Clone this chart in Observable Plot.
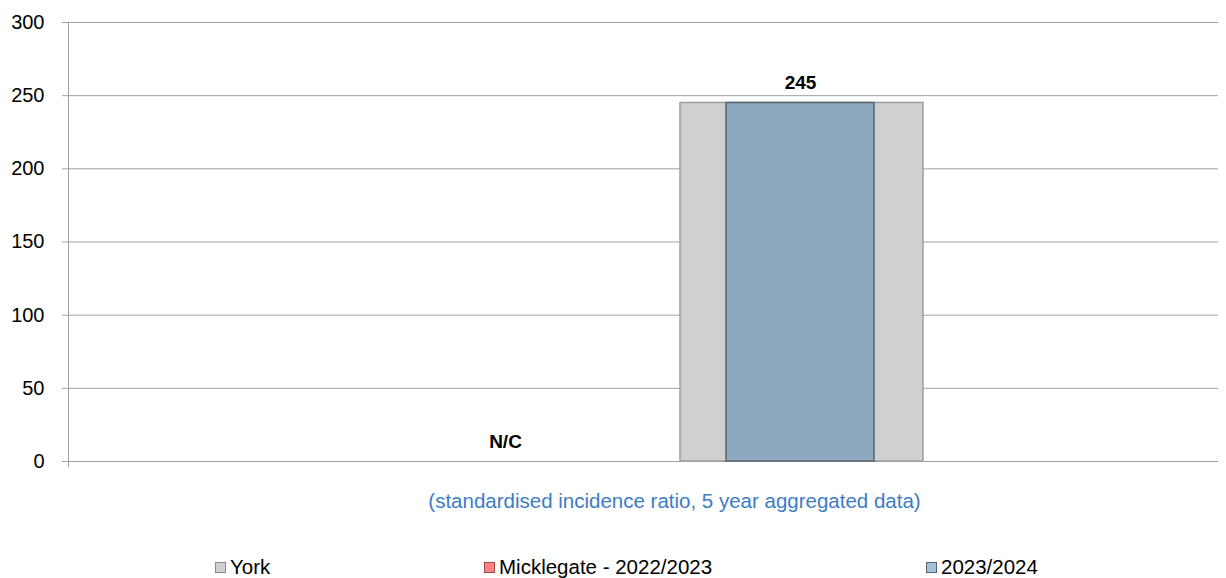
<!DOCTYPE html>
<html>
<head>
<meta charset="utf-8">
<script src="https://cdn.jsdelivr.net/npm/d3@7"></script>
<script src="https://cdn.jsdelivr.net/npm/@observablehq/plot@0.6"></script>
<style>
  html, body { margin: 0; padding: 0; background: #fff; }
  #wrap { position: relative; width: 1226px; height: 578px; font-family: "Liberation Sans", Arial, sans-serif; }
  #chart { position: absolute; left: 0; top: 0; }
  #subtitle { position: absolute; left: 0; width: 1349px; top: 488px; text-align: center; color: #3d7cc4; font-size: 20.5px; line-height: 26px; }
  .leg { position: absolute; top: 555px; font-size: 20.5px; line-height: 24px; color: #000; display: flex; align-items: center; white-space: nowrap; }
  .sw { width: 9px; height: 9px; margin-right: 4px; box-sizing: content-box; }
</style>
</head>
<body>
<div id="wrap">
  <div id="chart"></div>
  <div id="subtitle"></div>
  <div id="legend"></div>
</div>
<script>
const categories = ["Micklegate - 2022/2023", "2023/2024"];
const areaValues = [null, 245];
const yorkValues = [null, 245];
const valueLabels = ["N/C", "245"];
const yTicks = [0, 50, 100, 150, 200, 250, 300];
const seriesNames = ["York", "Micklegate - 2022/2023", "2023/2024"];
const subtitleText = "(standardised incidence ratio, 5 year aggregated data)";

const areaData = categories.map((c, i) => ({cat: c, value: areaValues[i], label: valueLabels[i]}));
const yorkData = categories.map((c, i) => ({cat: c, value: yorkValues[i]})).filter(d => d.value != null);
const barData = areaData.filter(d => d.value != null);

const chart = Plot.plot({
  width: 1226,
  height: 475,
  marginLeft: 68,
  marginRight: 8,
  marginTop: 22,
  marginBottom: 14,
  style: {fontFamily: "Liberation Sans, Arial, sans-serif", fontSize: "20px", color: "#000", background: "#fff"},
  x: {type: "band", domain: categories, paddingInner: 0.5, paddingOuter: 1.199, align: 0.513, axis: null},
  y: {domain: [0, 300], ticks: yTicks},
  marks: [
    Plot.gridY(yTicks, {stroke: "#a0a0a0", strokeOpacity: 1}),
    Plot.axisY(yTicks, {tickSize: 6, tickPadding: 18, stroke: "#a0a0a0", strokeOpacity: 1, fill: "#000", fontSize: 20, label: null}),
    Plot.frame({anchor: "left", stroke: "#a0a0a0", insetBottom: -5}),
    Plot.barY(yorkData, {x: "cat", y: "value", fill: "#d0d0d0", stroke: "#9e9e9e", strokeWidth: 1.5, insetLeft: -46, insetRight: -49}),
    Plot.barY(barData, {x: "cat", y: "value", fill: "#8ea8c0", stroke: "#56646f", strokeWidth: 1.5, insetLeft: 0, insetRight: 0}),
    Plot.text(areaData, {x: "cat", y: d => d.value ?? 0, text: "label", lineAnchor: "bottom", dy: -14, fontWeight: "bold", fontSize: 19, fill: "#000"})
  ]
});
document.getElementById("chart").appendChild(chart);

document.getElementById("subtitle").textContent = subtitleText;

const legendColors = [
  {fill: "#d0d0d0", stroke: "#8a8a8a"},
  {fill: "#ff8080", stroke: "#9c4a4a"},
  {fill: "#a7c0da", stroke: "#56646f"}
];
const legendLeft = [215, 484, 926];
const legend = document.getElementById("legend");
seriesNames.forEach((name, i) => {
  const item = document.createElement("div");
  item.className = "leg";
  item.style.left = legendLeft[i] + "px";
  const sw = document.createElement("span");
  sw.className = "sw";
  sw.style.background = legendColors[i].fill;
  sw.style.border = "1px solid " + legendColors[i].stroke;
  const t = document.createElement("span");
  t.textContent = name;
  item.appendChild(sw);
  item.appendChild(t);
  legend.appendChild(item);
});
</script>
</body>
</html>
